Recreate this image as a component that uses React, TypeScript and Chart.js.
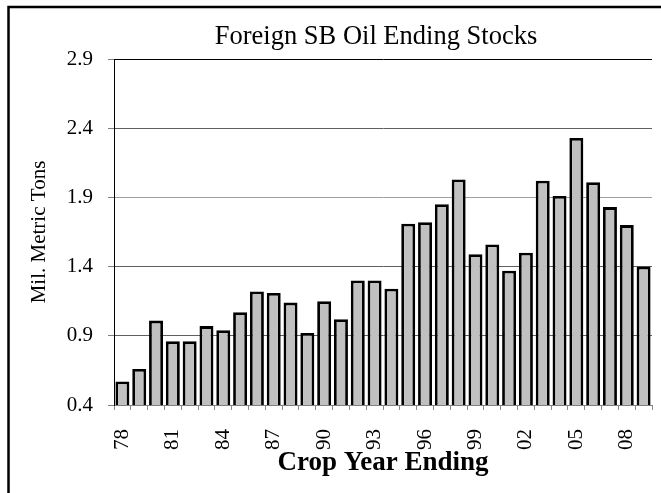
import React, { useEffect, useRef } from "react";
import { Chart, registerables } from "chart.js";

Chart.register(...registerables);

const years: string[] = [
  "78", "79", "80", "81", "82", "83", "84", "85", "86", "87", "88", "89", "90", "91", "92", "93",
  "94", "95", "96", "97", "98", "99", "00", "01", "02", "03", "04", "05", "06", "07", "08", "09",
];
const stocks: number[] = [
  0.57, 0.66, 1.01, 0.86, 0.86, 0.97, 0.94, 1.07, 1.22, 1.21, 1.14, 0.92, 1.15, 1.02, 1.3, 1.3,
  1.24, 1.71, 1.72, 1.85, 2.03, 1.49, 1.56, 1.37, 1.5, 2.02, 1.91, 2.33, 2.01, 1.83, 1.7, 1.4,
];
const chartTitle = "Foreign SB Oil Ending Stocks";
const yTitle = "Mil. Metric Tons";
const xTitle = "Crop Year Ending";
const yMin = 0.4;
const yMax = 2.9;
const yStep = 0.5;
const labelEvery = 3;

const SERIF = "'Liberation Serif', 'Times New Roman', serif";

const framePlugin = {
  id: "frameAndTitle",
  afterDraw(chart: any) {
    const ctx = chart.ctx;
    ctx.save();
    ctx.strokeStyle = "#000";
    ctx.lineWidth = 2.5;
    ctx.strokeRect(8.5, 7, 800, 800);
    ctx.fillStyle = "#000";
    ctx.font = `26.5px ${SERIF}`;
    ctx.textAlign = "center";
    ctx.textBaseline = "alphabetic";
    ctx.fillText(chartTitle, 376, 44);
    ctx.restore();
  },
};

export default function App() {
  const ref = useRef<HTMLCanvasElement | null>(null);
  useEffect(() => {
    if (!ref.current) return;
    const chart = new Chart(ref.current, {
      type: "bar",
      data: {
        labels: years,
        datasets: [
          {
            data: stocks,
            backgroundColor: "#c0c0c0",
            borderColor: "#000",
            borderWidth: 2.8,
            borderSkipped: false,
            categoryPercentage: 1,
            barPercentage: 0.83,
          },
        ],
      },
      options: {
        animation: false,
        responsive: false,
        layout: { padding: { left: 0, right: 9, top: 59, bottom: 0 } },
        plugins: { legend: { display: false }, tooltip: { enabled: false }, title: { display: false } },
        scales: {
          x: {
            afterFit: (s: any) => {
              s.height = 88;
              s.paddingLeft = 0;
              s.paddingRight = 0;
            },
            grid: {
              offset: true,
              drawOnChartArea: true,
              drawTicks: true,
              tickLength: 5,
              tickColor: "#8c8c8c",
              color: (c: any) => (c.index === years.length ? "#606060" : "transparent"),
            },
            border: { color: "#808080", width: 1 },
            ticks: {
              autoSkip: false,
              minRotation: 90,
              maxRotation: 90,
              padding: 19,
              color: "#000",
              font: { family: SERIF, size: 21 },
              callback: (_v: any, i: number) => (i % labelEvery === 0 ? years[i] : ""),
            },
            title: {
              display: true,
              text: xTitle,
              color: "#000",
              font: { family: SERIF, size: 27, weight: "bold" },
              padding: { top: 0, bottom: 14 },
            },
          },
          y: {
            min: yMin,
            max: yMax,
            afterFit: (s: any) => {
              s.width = 114;
            },
            grid: {
              drawTicks: true,
              tickLength: 6,
              tickColor: "#808080",
              color: (c: any) => {
                const v = c.tick ? c.tick.value : 0;
                if (Math.abs(v - yMax) < 1e-6) return "#000";
                if (Math.abs(v - 1.9) < 1e-6) return "#a0a0a0";
                return "#606060";
              },
            },
            border: { color: "#000", width: 1 },
            ticks: {
              stepSize: yStep,
              padding: 15,
              color: "#000",
              font: { family: SERIF, size: 21 },
              callback: (v: any) => Number(v).toFixed(1),
            },
            title: {
              display: true,
              text: yTitle,
              color: "#000",
              font: { family: SERIF, size: 21 },
              padding: { top: 27, bottom: 0 },
            },
          },
        },
      },
      plugins: [framePlugin],
    });
    return () => chart.destroy();
  }, []);
  return (
    <div style={{ position: "fixed", left: 0, top: 0, width: 661, height: 493, background: "#fff" }}>
      <canvas ref={ref} width={661} height={493} style={{ display: "block", width: 661, height: 493 }} />
    </div>
  );
}
